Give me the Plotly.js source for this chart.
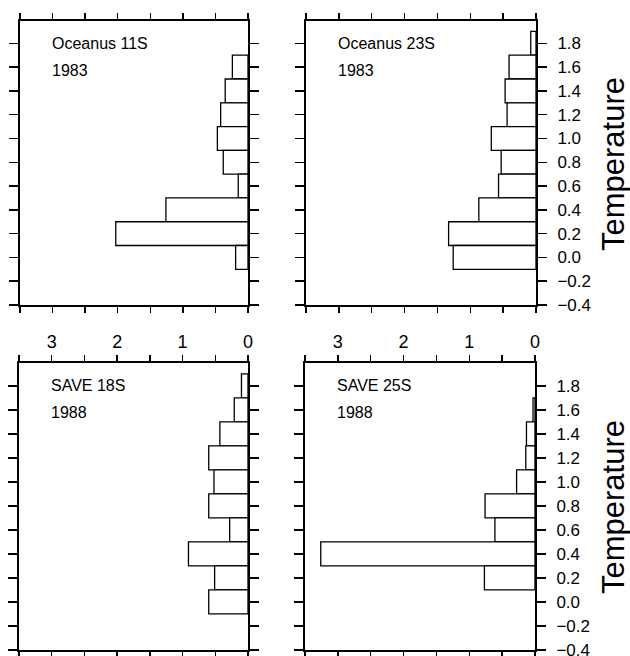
<!DOCTYPE html>
<html>
<head>
<meta charset="utf-8">
<script src="https://cdn.plot.ly/plotly-3.0.1.min.js"></script>
<style>html,body{margin:0;padding:0;background:#fff;}#chart{width:630px;height:656px;}</style>
</head>
<body>
<div id="chart"></div>
<script>
// Temperature bin centres and histogram values for each section
const ocean11Temp = [1.6, 1.4, 1.2, 1.0, 0.8, 0.6, 0.4, 0.2, 0.0];
const ocean11Vals = [0.24, 0.35, 0.42, 0.47, 0.38, 0.15, 1.26, 2.03, 0.19];

const ocean23Temp = [1.8, 1.6, 1.4, 1.2, 1.0, 0.8, 0.6, 0.4, 0.2, 0.0];
const ocean23Vals = [0.08, 0.41, 0.47, 0.44, 0.68, 0.53, 0.57, 0.87, 1.33, 1.26];

const save18Temp = [1.8, 1.6, 1.4, 1.2, 1.0, 0.8, 0.6, 0.4, 0.2, 0.0];
const save18Vals = [0.10, 0.21, 0.43, 0.60, 0.52, 0.60, 0.28, 0.91, 0.51, 0.60];

const save25Temp = [1.6, 1.4, 1.2, 1.0, 0.8, 0.6, 0.4, 0.2];
const save25Vals = [0.03, 0.13, 0.14, 0.28, 0.76, 0.61, 3.26, 0.77];

const panelNames = ["Oceanus 11S", "Oceanus 23S", "SAVE 18S", "SAVE 25S"];
const panelYears = ["1983", "1983", "1988", "1988"];
const xTickVals = [0, 0.5, 1, 1.5, 2, 2.5, 3, 3.5];
const xTickText = ["0", "", "1", "", "2", "", "3", ""];
const yTitle = "Temperature";

const FONT = "Liberation Sans, Arial, Helvetica, sans-serif";
const W = 630, H = 656;

const series = [
  [ocean11Temp, ocean11Vals],
  [ocean23Temp, ocean23Vals],
  [save18Temp, save18Vals],
  [save25Temp, save25Vals]
];

// panel boxes in pixels: [left, right, top, bottom]
const boxes = [
  [20, 248, 20.7, 305],
  [306, 536, 20.7, 305],
  [19, 248, 363, 650],
  [305, 535, 363, 650]
];

const traces = series.map((s, i) => {
  const n = i === 0 ? '' : String(i + 1);
  return {
    type: 'bar',
    orientation: 'h',
    y: s[0],
    x: s[1],
    width: 0.2,
    xaxis: 'x' + n,
    yaxis: 'y' + n,
    marker: {color: '#ffffff', line: {color: '#000000', width: 1.3}},
    hoverinfo: 'x+y',
    showlegend: false
  };
});

const layout = {
  width: W, height: H,
  margin: {l: 0, r: 0, t: 0, b: 0},
  paper_bgcolor: '#ffffff',
  plot_bgcolor: '#ffffff',
  font: {family: FONT, color: '#000000'},
  annotations: [],
  showlegend: false
};

boxes.forEach((b, i) => {
  const n = i === 0 ? '' : String(i + 1);
  const bottomRow = i >= 2;
  const rightCol = i % 2 === 1;
  layout['xaxis' + n] = {
    domain: [b[0] / W, b[1] / W],
    anchor: 'y' + n,
    range: [3.5, 0],
    tickmode: 'array',
    tickvals: xTickVals,
    ticktext: xTickText,
    ticks: 'outside',
    ticklen: 6,
    tickwidth: 1.5,
    tickcolor: '#000',
    showgrid: false,
    zeroline: false,
    showline: true,
    linewidth: 2,
    linecolor: '#000',
    mirror: 'ticks',
    side: bottomRow ? 'top' : 'bottom',
    showticklabels: bottomRow,
    tickfont: {family: FONT, size: 18, color: '#000'},
    fixedrange: true
  };
  layout['yaxis' + n] = {
    domain: [(H - b[3]) / H, (H - b[2]) / H],
    anchor: 'x' + n,
    range: [-0.4, 1.99],
    tickmode: 'linear',
    tick0: -0.4,
    dtick: 0.2,
    tickformat: '.1f',
    ticks: 'outside',
    ticklen: 9,
    tickwidth: 1.5,
    tickcolor: '#000',
    showgrid: false,
    zeroline: false,
    showline: true,
    linewidth: 2,
    linecolor: '#000',
    mirror: 'ticks',
    side: 'right',
    showticklabels: rightCol,
    ticklabelstandoff: 7,
    ticklabeloverflow: 'allow',
    tickfont: {family: FONT, size: 17, color: '#000'},
    fixedrange: true
  };
  layout.annotations.push({
    xref: 'x' + n, yref: 'y' + n,
    x: 3.04, y: 1.8, xanchor: 'left', yanchor: 'middle',
    text: panelNames[i], showarrow: false,
    font: {family: FONT, size: 16, color: '#000'}
  });
  layout.annotations.push({
    xref: 'x' + n, yref: 'y' + n,
    x: 3.04, y: 1.575, xanchor: 'left', yanchor: 'middle',
    text: panelYears[i], showarrow: false,
    font: {family: FONT, size: 16, color: '#000'}
  });
  if (rightCol) {
    layout.annotations.push({
      xref: 'paper', yref: 'paper',
      x: 613 / W, y: bottomRow ? (H - 507) / H : (H - 164) / H,
      xanchor: 'center', yanchor: 'middle',
      textangle: -90,
      text: yTitle, showarrow: false,
      font: {family: FONT, size: 31, color: '#000'}
    });
  }
});

Plotly.newPlot('chart', traces, layout, {staticPlot: true, displayModeBar: false});
</script>
</body>
</html>
